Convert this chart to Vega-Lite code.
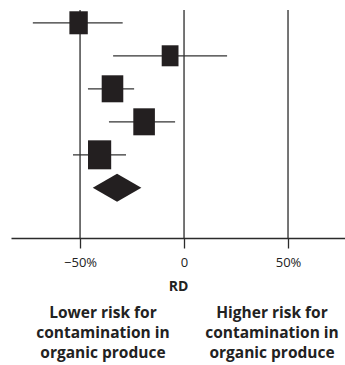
{
  "$schema": "https://vega.github.io/schema/vega-lite/v6.json",
  "width": 334,
  "height": 238,
  "autosize": "none",
  "padding": {"left": 11, "top": 0, "right": 0, "bottom": 127},
  "background": "white",
  "config": {"view": {"stroke": null}, "font": "Open Sans"},
  "datasets": {
    "refs": [{"rd": -50}, {"rd": 0}, {"rd": 50}],
    "studies": [
      {"row": 1, "rd": -50.7, "lo": -72.7, "hi": -29.5, "weight": 16.2},
      {"row": 2, "rd": -6.7, "lo": -34.1, "hi": 20.7, "weight": 13.5},
      {"row": 3, "rd": -34.4, "lo": -46.2, "hi": -24.0, "weight": 22.3},
      {"row": 4, "rd": -19.2, "lo": -36.1, "hi": -4.3, "weight": 22.3},
      {"row": 5, "rd": -40.6, "lo": -53.4, "hi": -27.9, "weight": 25.7}
    ],
    "pooled": [{"row": 6, "rd": -32.2, "lo": -43.9, "hi": -20.5}]
  },
  "layer": [
    {
      "data": {"name": "refs"},
      "mark": {"type": "rule", "color": "#2b2b2b", "strokeWidth": 1.3},
      "encoding": {
        "x": {
          "field": "rd",
          "type": "quantitative",
          "scale": {"domain": [-83.2, 77.4], "nice": false, "zero": false},
          "axis": {
            "title": "RD",
            "values": [-50, 0, 50],
            "labelExpr": "datum.value === 0 ? '0' : format(datum.value, 'd') + '%'",
            "labelOverlap": false,
            "labelFlush": false,
            "grid": false,
            "domainColor": "#2b2b2b",
            "domainWidth": 1.3,
            "tickColor": "#2b2b2b",
            "tickWidth": 1.3,
            "tickSize": 10,
            "labelFontSize": 13,
            "labelColor": "#222",
            "labelPadding": 8,
            "titleFontSize": 14,
            "titleFontWeight": "bold",
            "titleColor": "#222",
            "titlePadding": 10
          }
        },
        "y": {
          "datum": 0.61,
          "type": "quantitative",
          "scale": {"domain": [0.31, 7.52], "reverse": true, "nice": false, "zero": false},
          "axis": null
        },
        "y2": {"datum": 7.52}
      }
    },
    {
      "data": {"name": "studies"},
      "mark": {"type": "rule", "color": "#333", "strokeWidth": 1.3},
      "encoding": {
        "x": {"field": "lo", "type": "quantitative"},
        "x2": {"field": "hi"},
        "y": {"field": "row", "type": "quantitative"}
      }
    },
    {
      "data": {"name": "studies"},
      "mark": {"type": "point", "shape": "M-0.8,-1H0.8V1H-0.8Z", "filled": true, "color": "#231f20", "opacity": 1},
      "encoding": {
        "x": {"field": "rd", "type": "quantitative"},
        "y": {"field": "row", "type": "quantitative"},
        "size": {
          "field": "weight",
          "type": "quantitative",
          "scale": {"domain": [0, 100], "range": [0, 3269], "zero": true},
          "legend": null
        }
      }
    },
    {
      "data": {"name": "pooled"},
      "mark": {"type": "point", "shape": "M-1,0L0,-0.576L1,0L0,0.576Z", "filled": true, "color": "#231f20", "opacity": 1, "size": 2362},
      "encoding": {
        "x": {"field": "rd", "type": "quantitative"},
        "y": {"field": "row", "type": "quantitative"}
      }
    },
    {
      "data": {"values": [{}]},
      "mark": {"type": "text", "align": "center", "baseline": "alphabetic", "fontSize": 15.5, "fontWeight": "bold", "color": "#222", "lineHeight": 20, "lineBreak": "\n"},
      "encoding": {
        "x": {"datum": -39},
        "y": {"datum": 9.95},
        "text": {"value": "Lower risk for\ncontamination in\norganic produce"}
      }
    },
    {
      "data": {"values": [{}]},
      "mark": {"type": "text", "align": "center", "baseline": "alphabetic", "fontSize": 15.5, "fontWeight": "bold", "color": "#222", "lineHeight": 20, "lineBreak": "\n"},
      "encoding": {
        "x": {"datum": 42.3},
        "y": {"datum": 9.95},
        "text": {"value": "Higher risk for\ncontamination in\norganic produce"}
      }
    }
  ]
}
